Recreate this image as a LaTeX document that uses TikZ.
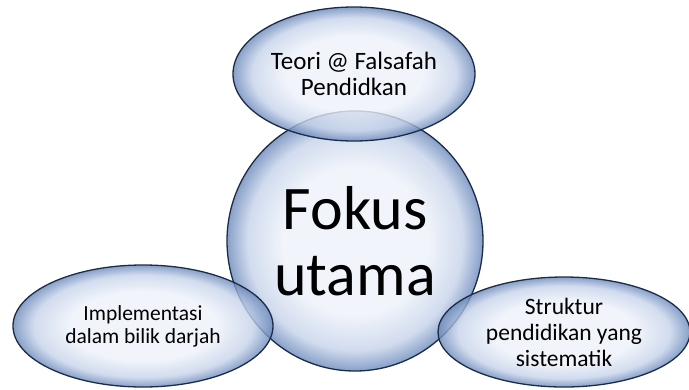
\documentclass[tikz,border=0pt]{standalone}
\usepackage{fontspec}
\setmainfont{Carlito}
\usetikzlibrary{shapes.geometric}
\definecolor{bubin}{HTML}{EEF2FA}
\definecolor{bubmid}{HTML}{C6D3EA}
\definecolor{bubout}{HTML}{6A88BA}
\definecolor{bubline}{HTML}{1C2B48}
\pgfdeclareradialshading{bubble}{\pgfpoint{0bp}{0bp}}{color(0bp)=(bubin); color(14bp)=(bubin); color(21bp)=(bubmid); color(25bp)=(bubout); color(50bp)=(bubout)}

\begin{document}
\begin{tikzpicture}[x=1pt,y=-1pt]
\tikzstyle{every node}=[draw=bubline,line width=1.3pt,shape=ellipse,shade,shading=bubble,fill opacity=0.8,text opacity=1,align=center,inner sep=0pt];
\useasboundingbox (0,0) rectangle (689,389);
\node[minimum width=256pt,minimum height=260pt,font=\fontsize{62}{66}\selectfont] (fokus) at (355,241) {Fokus\\utama};
\node[minimum width=242pt,minimum height=134pt,font=\fontsize{25}{26}\selectfont] (teori) at (354,74) {Teori @ Falsafah\\Pendidkan};
\node[minimum width=260pt,minimum height=122pt,font=\fontsize{21.5}{23}\selectfont] (impl) at (143,326) {Implementasi\\dalam bilik darjah};
\node[minimum width=252pt,minimum height=110pt,font=\fontsize{23.5}{26}\selectfont] (struk) at (564,332) {Struktur\\pendidikan yang\\sistematik};
\end{tikzpicture}
\end{document}
